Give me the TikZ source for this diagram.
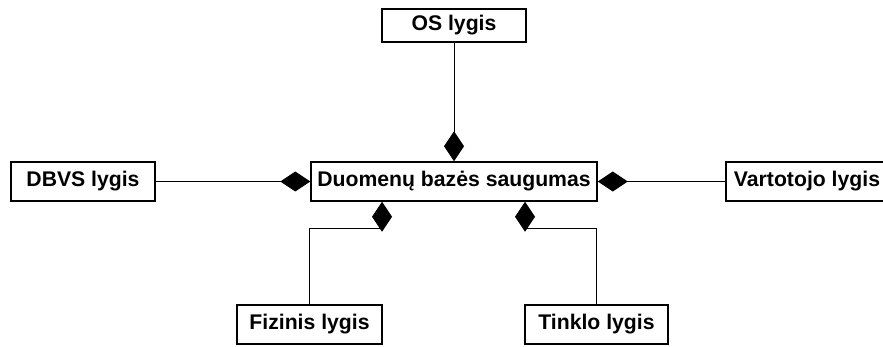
\documentclass[tikz,border=0pt]{standalone}
\usepackage{fontspec}
\setmainfont{Liberation Sans}
\usetikzlibrary{arrows.meta}
\begin{document}
\begin{tikzpicture}[x=1pt,y=-1pt,
	level/.style={draw,line width=1.5pt,font=\fontsize{21.2}{25}\selectfont\bfseries,minimum height=39pt,inner sep=0pt},
	agg/.style={line width=1pt,-{Diamond[length=30pt,width=20pt]}}]
		\useasboundingbox (0,0) rectangle (883,347);
		% center
			\node [level,minimum width=286pt] (db) at (454,181.5) {Duomen\k{u} baz\.es saugumas};
		% levels
			\node [level,minimum width=144pt,minimum height=33pt] (os) at (454,25.5) {OS lygis};
			\node [level,minimum width=144pt] (dbvs) at (83,181.5) {DBVS lygis};
			\node [level,minimum width=162pt] (vart) at (807,181.5) {Vartotojo lygis};
			\node [level,minimum width=145pt] (fiz) at (309.5,324.5) {Fizinis lygis};
			\node [level,minimum width=143pt] (tink) at (596.5,324.5) {Tinklo lygis};
		% joins
			\coordinate (fizjoin) at (382,229);
			\coordinate (tinkjoin) at (525,229);
		% aggregation
			\draw [agg] (os) -- (db);
			\draw [agg] (dbvs) -- (db);
			\draw [agg] (vart) -- (db);
			\draw [agg] (fiz.north) |- (fizjoin) -- (fizjoin |- db.south);
			\draw [agg] (tink.north) |- (tinkjoin) -- (tinkjoin |- db.south);
	\end{tikzpicture}
\end{document}
